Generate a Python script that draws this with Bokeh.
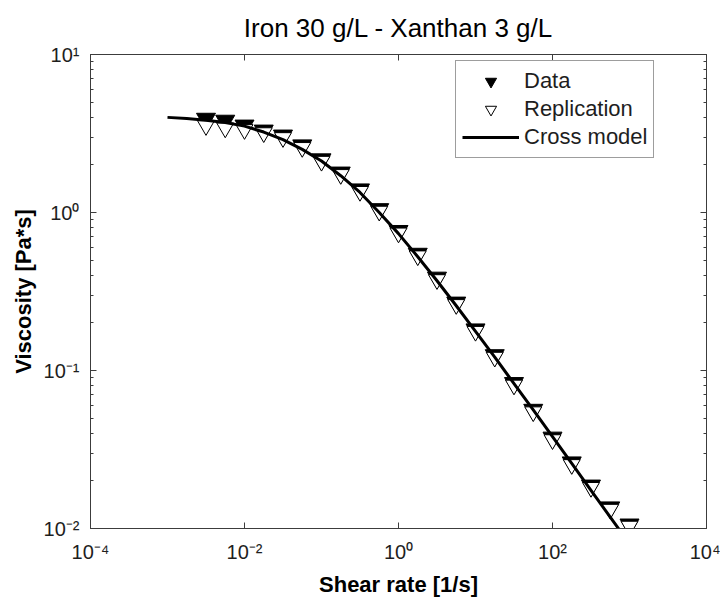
from bokeh.plotting import figure
from bokeh.models import LogAxis, FixedTicker, Legend, LegendItem, CustomJSTickFormatter
from bokeh.embed import file_html
from bokeh.resources import INLINE

# ---------------- data ----------------
shear_rate = [0.003162, 0.005623, 0.01, 0.01778, 0.03162, 0.05623, 0.1, 0.1778,
              0.3162, 0.5623, 1.0, 1.778, 3.162, 5.623, 10.0, 17.78, 31.62,
              56.23, 100.0, 177.8, 316.2, 562.3, 1000.0]
data_viscosity = [3.92, 3.81, 3.55, 3.30, 3.07, 2.66, 2.17, 1.79, 1.40, 1.05,
                  0.764, 0.548, 0.387, 0.269, 0.182, 0.125, 0.0833, 0.0564,
                  0.0376, 0.0262, 0.0187, 0.0136, 0.0106]
replication_viscosity = [3.55, 3.43, 3.35, 3.20, 2.98, 2.58, 2.11, 1.74, 1.36,
                         1.02, 0.742, 0.532, 0.376, 0.2616, 0.177, 0.1214,
                         0.0809, 0.0548, 0.0365, 0.0254, 0.0182, 0.01324, 0.01035]
model_shear_rate = [0.001, 0.001778, 0.003162, 0.005623, 0.01, 0.01778, 0.03162,
                    0.05623, 0.1, 0.1778, 0.3162, 0.5623, 1.0, 1.778, 3.162,
                    5.623, 10.0, 17.78, 31.62, 56.23, 100.0, 177.8, 316.2,
                    562.3, 1000.0]
model_viscosity = [4.00, 3.93, 3.84, 3.71, 3.52, 3.23, 2.89, 2.51, 2.12, 1.71,
                   1.34, 1.00, 0.735, 0.525, 0.370, 0.257, 0.177, 0.1215,
                   0.0826, 0.0563, 0.0381, 0.0258, 0.01745, 0.0118, 0.0080]

x_ticks = [1e-4, 1e-2, 1e0, 1e2, 1e4]
x_tick_labels = ["10\u207b\u2074", "10\u207b\u00b2", "10\u2070", "10\u00b2", "10\u2074"]
y_ticks = [1e-2, 1e-1, 1e0, 1e1]
y_tick_labels = ["10\u207b\u00b2", "10\u207b\u00b9", "10\u2070", "10\u00b9"]
y_minor_ticks = [2e-2, 3e-2, 4e-2, 5e-2, 6e-2, 7e-2, 8e-2, 9e-2,
                 2e-1, 3e-1, 4e-1, 5e-1, 6e-1, 7e-1, 8e-1, 9e-1,
                 2e0, 3e0, 4e0, 5e0, 6e0, 7e0, 8e0, 9e0]

title_text = "Iron 30 g/L - Xanthan 3 g/L"
x_label = "Shear rate [1/s]"
y_label = "Viscosity [Pa*s]"
legend_labels = ["Data", "Replication", "Cross model"]

# ---------------- styling ----------------
FONT = "Liberation Sans"
AX = "#3c3c3c"
TXT = "#1e1e1e"

p = figure(width=720, height=599, x_axis_type="log", y_axis_type="log",
           x_range=(1e-4, 1e4), y_range=(1e-2, 1e1),
           output_backend="svg", toolbar_location=None,
           min_border_left=90, min_border_right=14,
           min_border_top=54, min_border_bottom=68,
           background_fill_color="white", border_fill_color="white")

p.title.text = title_text
p.title.align = "center"
p.title.text_font = FONT
p.title.text_font_size = "26px"
p.title.text_font_style = "normal"
p.title.text_color = "black"
p.title.standoff = 16

p.grid.visible = False
p.outline_line_color = AX
p.outline_line_width = 1

LOOKUP = """
for (let i = 0; i < vals.length; i++) {
  if (Math.abs(Math.log10(tick) - Math.log10(vals[i])) < 1e-6) { return labs[i]; }
}
return ' ';
"""


def style_axis(ax, ticker, labels=None, standoff=0):
    ax.ticker = ticker
    ax.major_tick_in = 6
    ax.major_tick_out = 0
    ax.minor_tick_in = 3
    ax.minor_tick_out = 0
    ax.axis_line_color = AX
    ax.major_tick_line_color = AX
    ax.minor_tick_line_color = AX
    ax.major_label_standoff = standoff
    if labels is None:
        ax.formatter = CustomJSTickFormatter(code="return ' ';")
        ax.major_label_text_font_size = "1px"
    else:
        ax.formatter = CustomJSTickFormatter(args=dict(vals=ticker.ticks, labs=labels),
                                             code=LOOKUP)
        ax.major_label_text_font = FONT
        ax.major_label_text_font_size = "20px"
        ax.major_label_text_color = TXT


xb = p.below[0]
yl = p.left[0]
style_axis(xb, FixedTicker(ticks=x_ticks, minor_ticks=[]), x_tick_labels, 12)
style_axis(yl, FixedTicker(ticks=y_ticks, minor_ticks=y_minor_ticks), y_tick_labels, 11)
xb.axis_label = x_label
yl.axis_label = y_label
for ax, standoff in ((xb, 6), (yl, 5)):
    ax.axis_label_text_font = FONT
    ax.axis_label_text_font_size = "22px"
    ax.axis_label_text_font_style = "bold"
    ax.axis_label_text_color = "black"
    ax.axis_label_standoff = standoff

xa = LogAxis()
style_axis(xa, FixedTicker(ticks=x_ticks, minor_ticks=[]))
p.add_layout(xa, "above")
yr = LogAxis()
style_axis(yr, FixedTicker(ticks=y_ticks, minor_ticks=y_minor_ticks))
p.add_layout(yr, "right")

# ---------------- glyphs ----------------
r_data = p.scatter(shear_rate, data_viscosity, marker="inverted_triangle", size=19,
                   fill_color="black", line_color="black", line_width=1)
r_rep = p.scatter(shear_rate, replication_viscosity, marker="inverted_triangle", size=17,
                  fill_color="white", line_color="black", line_width=1)
r_line = p.line(model_shear_rate, model_viscosity, line_color="black", line_width=3)

# ---------------- legend ----------------
legend = Legend(items=[LegendItem(label=legend_labels[0], renderers=[r_data]),
                       LegendItem(label=legend_labels[1], renderers=[r_rep]),
                       LegendItem(label=legend_labels[2], renderers=[r_line])],
                location=(365, 370), glyph_width=57, glyph_height=28,
                label_height=28, spacing=0, padding=6, margin=0,
                label_standoff=5, label_text_font=FONT, label_text_font_size="22px",
                label_text_color=TXT, border_line_color=AX, border_line_width=1,
                background_fill_color="white", background_fill_alpha=1)
p.add_layout(legend, "center")

open("out.html", "w").write(file_html(p, INLINE))
